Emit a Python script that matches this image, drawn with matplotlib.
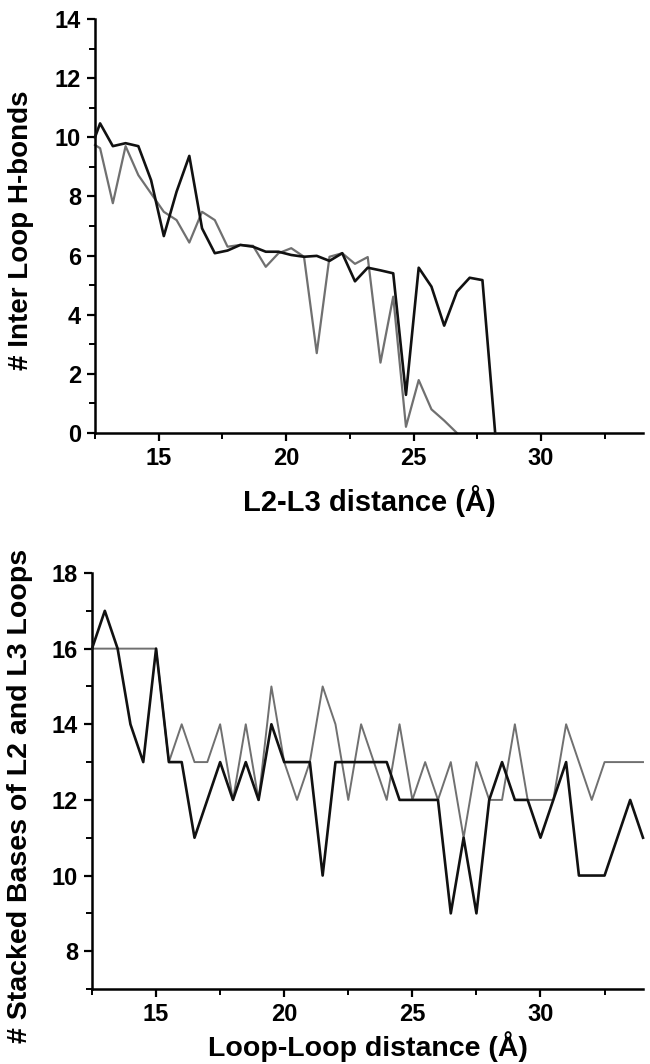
import numpy as np
import matplotlib
matplotlib.use("Agg")
from matplotlib import pyplot as plt
from matplotlib.ticker import MultipleLocator

plt.rcParams['font.family'] = ['Liberation Sans', 'DejaVu Sans']
plt.rcParams['font.weight'] = 'bold'

# top panel: inter-loop H-bonds vs L2-L3 distance
hb_x_black = [12.5, 12.7, 13.2, 13.7, 14.2, 14.7, 15.2, 15.7, 16.2, 16.7, 17.2,
              17.7, 18.2, 18.7, 19.2, 19.7, 20.2, 20.7, 21.2, 21.7, 22.2, 22.7,
              23.2, 23.7, 24.2, 24.7, 25.2, 25.7, 26.2, 26.7, 27.2, 27.7, 28.2]
hb_black = [10.0, 10.47, 9.7, 9.8, 9.7, 8.55, 6.66, 8.16, 9.37, 6.92, 6.08,
            6.17, 6.36, 6.3, 6.13, 6.13, 6.02, 5.96, 5.99, 5.82, 6.08, 5.13,
            5.59, 5.5, 5.4, 1.29, 5.59, 4.95, 3.63, 4.78, 5.25, 5.17, 0.0]
hb_x_gray = [12.5, 12.7, 13.2, 13.7, 14.2, 14.7, 15.2, 15.7, 16.2, 16.7, 17.2,
             17.7, 18.2, 18.7, 19.2, 19.7, 20.2, 20.7, 21.2, 21.7, 22.2, 22.7,
             23.2, 23.7, 24.2, 24.7, 25.2, 25.7, 26.2, 26.7]
hb_gray = [9.74, 9.63, 7.77, 9.7, 8.72, 8.1, 7.48, 7.2, 6.44, 7.48, 7.2,
           6.3, 6.36, 6.33, 5.62, 6.08, 6.25, 5.96, 2.7, 5.96, 6.08, 5.72,
           5.95, 2.38, 4.61, 0.21, 1.79, 0.8, 0.42, 0.0]

# bottom panel: stacked bases vs loop-loop distance
st_x = [12.5, 13.0, 13.5, 14.0, 14.5, 15.0, 15.5, 16.0, 16.5, 17.0, 17.5, 18.0,
        18.5, 19.0, 19.5, 20.0, 20.5, 21.0, 21.5, 22.0, 22.5, 23.0, 23.5, 24.0,
        24.5, 25.0, 25.5, 26.0, 26.5, 27.0, 27.5, 28.0, 28.5, 29.0, 29.5, 30.0,
        30.5, 31.0, 31.5, 32.0, 32.5, 33.0, 33.5, 34.0]
st_black = [16, 17, 16, 14, 13, 16, 13, 13, 11, 12, 13, 12,
            13, 12, 14, 13, 13, 13, 10, 13, 13, 13, 13, 13,
            12, 12, 12, 12, 9, 11, 9, 12, 13, 12, 12, 11,
            12, 13, 10, 10, 10, 11, 12, 11]
st_gray = [16, 16, 16, 16, 16, 16, 13, 14, 13, 13, 14, 12,
           14, 12, 15, 13, 12, 13, 15, 14, 12, 14, 13, 12,
           14, 12, 13, 12, 13, 11, 13, 12, 12, 14, 12, 12,
           12, 14, 13, 12, 13, 13, 13, 13]

BLACK = '#111111'
GRAY = '#707070'

fig = plt.figure(figsize=(6.5, 10.64), dpi=100)
ax1 = fig.add_axes([95/650, 1 - 433/1064, 548/650, 414/1064])
ax2 = fig.add_axes([92/650, 1 - 989/1064, 551/650, 416/1064])

ax1.plot(hb_x_black, hb_black, color=BLACK, lw=1.9, clip_on=False, zorder=3)
ax1.plot(hb_x_gray, hb_gray, color=GRAY, lw=1.6, clip_on=False, zorder=2)
ax1.set_xlim(12.5, 34)
ax1.set_ylim(0, 14)
ax1.yaxis.set_major_locator(MultipleLocator(2))
ax1.yaxis.set_minor_locator(MultipleLocator(1))
ax1.set_xlabel("L2-L3 distance (Å)", fontsize=21, fontweight='bold')
ax1.set_ylabel("# Inter Loop H-bonds", fontsize=20, fontweight='bold')
ax1.xaxis.set_label_coords(0.50, -0.125)
ax1.yaxis.set_label_coords(-0.112, 0.49)

ax2.plot(st_x, st_black, color=BLACK, lw=1.9, clip_on=False, zorder=3)
ax2.plot(st_x, st_gray, color=GRAY, lw=1.4, clip_on=False, zorder=2)
ax2.set_xlim(12.5, 34)
ax2.set_ylim(7, 18)
ax2.yaxis.set_major_locator(MultipleLocator(2))
ax2.yaxis.set_minor_locator(MultipleLocator(1))
ax2.set_xlabel("Loop-Loop distance (Å)", fontsize=20.5, fontweight='bold', va='bottom')
ax2.set_ylabel("# Stacked Bases of L2 and L3 Loops", fontsize=20.5, fontweight='bold')
ax2.xaxis.set_label_coords(0.50, -0.176)
ax2.yaxis.set_label_coords(-0.107, 0.464)

for ax in (ax1, ax2):
    ax.xaxis.set_major_locator(MultipleLocator(5))
    ax.xaxis.set_minor_locator(MultipleLocator(2.5))
    for s in ('top', 'right'):
        ax.spines[s].set_visible(False)
    for s in ('left', 'bottom'):
        ax.spines[s].set_linewidth(1.8)
    ax.tick_params(which='major', length=6, width=1.6, labelsize=17, pad=4)
    ax.tick_params(which='minor', length=4, width=1.4)
    for lab in ax.get_xticklabels() + ax.get_yticklabels():
        lab.set_fontweight('bold')

fig.savefig("out.png", dpi=100)
